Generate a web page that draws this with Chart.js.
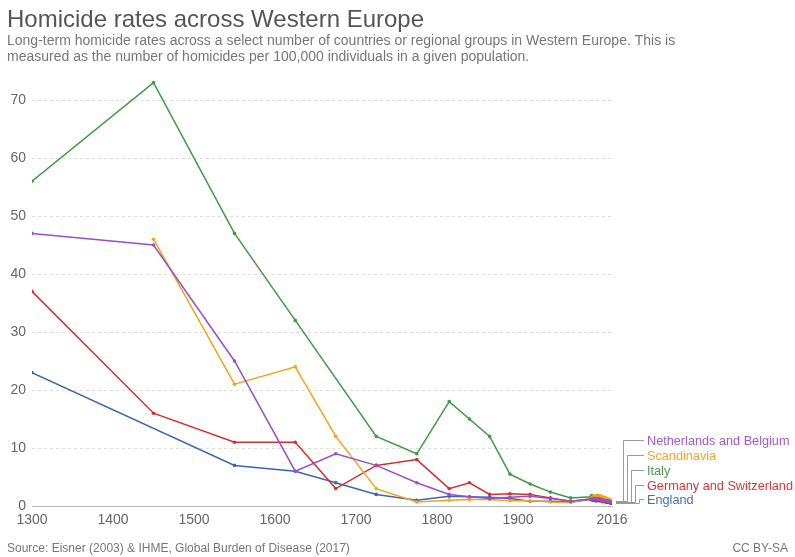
<!DOCTYPE html>
<html>
<head>
<meta charset="utf-8">
<script src="https://cdn.jsdelivr.net/npm/chart.js@4"></script>
<style>
  html, body { margin: 0; padding: 0; background: #fff; }
  #wrap { width: 795px; height: 557px; position: relative; }
  canvas { display: block; }
</style>
</head>
<body>
<div id="wrap"><canvas id="c" width="795" height="557"></canvas></div>
<script>
// ---- Data ----
const seriesNames = ["Netherlands and Belgium", "Scandinavia", "Italy", "Germany and Switzerland", "England"];
const historicYears = [1300, 1450, 1550, 1625, 1675, 1725, 1775, 1815, 1840, 1865, 1890, 1915, 1940, 1965];
const recentYears = [1990, 1991, 1992, 1993, 1994, 1995, 1996, 1997, 1998, 1999, 2000, 2001, 2002, 2003, 2004, 2005, 2006, 2007, 2008, 2009, 2010, 2011, 2012, 2013, 2014, 2015, 2016];

const netherlandsHist = [47, 45, 25, 6, 9, 7, 4, 2, 1.6, 1.3, 1.5, 1.7, 1.3, 0.8];
const scandinaviaHist = [null, 46, 21, 24, 12, 3, 0.7, 1, 1.1, 1.1, 0.9, 0.9, 0.7, 0.6];
const italyHist = [56, 73, 47, 32, null, 12, 9, 18, 15, 12, 5.5, 3.8, 2.4, 1.4];
const germanyHist = [37, 16, 11, 11, 3, 7, 8, 3, 4, 2, 2.1, 2, 1.4, 0.8];
const englandHist = [23, null, 7, 6, 4, 2, 1, 1.7, 1.6, 1.5, 1.3, 0.8, 0.8, 0.7];

const netherlandsRecent = [1.2, 1.2, 1.2, 1.3, 1.3, 1.3, 1.2, 1.2, 1.2, 1.2, 1.2, 1.2, 1.1, 1.1, 1.0, 1.0, 1.0, 0.9, 0.9, 0.9, 0.9, 0.8, 0.8, 0.8, 0.7, 0.7, 0.7];
const scandinaviaRecent = [1.3, 1.4, 1.5, 1.6, 1.6, 1.7, 1.7, 1.8, 1.8, 1.8, 1.7, 1.8, 1.7, 1.6, 1.6, 1.5, 1.5, 1.4, 1.4, 1.3, 1.3, 1.2, 1.1, 1.1, 1.0, 1.0, 0.9];
const italyRecent = [1.6, 1.8, 1.7, 1.6, 1.5, 1.4, 1.4, 1.3, 1.3, 1.3, 1.2, 1.2, 1.2, 1.1, 1.1, 1.0, 1.0, 1.0, 1.0, 0.9, 0.9, 0.9, 0.8, 0.8, 0.8, 0.8, 0.7];
const germanyRecent = [1.2, 1.3, 1.3, 1.2, 1.2, 1.1, 1.1, 1.0, 1.0, 1.0, 0.9, 0.9, 0.9, 0.9, 0.8, 0.8, 0.8, 0.8, 0.7, 0.7, 0.7, 0.7, 0.7, 0.7, 0.7, 0.7, 0.7];
const englandRecent = [1.1, 1.1, 1.0, 1.0, 1.0, 0.9, 0.9, 0.9, 0.9, 1.0, 1.0, 1.1, 1.1, 1.0, 0.9, 0.9, 0.9, 0.8, 0.8, 0.7, 0.7, 0.6, 0.6, 0.6, 0.5, 0.5, 0.5];

const xTickValues = [1300, 1400, 1500, 1600, 1700, 1800, 1900, 2016];
const yTickValues = [0, 10, 20, 30, 40, 50, 60, 70];

// ---- Styles ----
const lineColors = ["#9a4fc6", "#f2a31e", "#3f9a43", "#cf3031", "#3b66b0"];
const labelColors = ["#a05cc9", "#f0a632", "#4a9a4c", "#d03a3c", "#4470b5"];

const allYears = historicYears.concat(recentYears);
function build(hist, recent) {
  const vals = hist.concat(recent);
  return allYears.map((x, i) => ({ x: x, y: vals[i] })).filter(p => p.y !== null);
}
const seriesData = [
  build(netherlandsHist, netherlandsRecent),
  build(scandinaviaHist, scandinaviaRecent),
  build(italyHist, italyRecent),
  build(germanyHist, germanyRecent),
  build(englandHist, englandRecent)
];

const FONT = "'Liberation Sans', Arial, sans-serif";

const decorPlugin = {
  id: 'decor',
  afterDraw(chart) {
    const ctx = chart.ctx;
    ctx.save();
    ctx.textBaseline = 'alphabetic';
    ctx.textAlign = 'left';
    ctx.fillStyle = '#555';
    ctx.font = "24px " + FONT;
    ctx.fillText("Homicide rates across Western Europe", 7, 27);
    ctx.fillStyle = '#777';
    ctx.font = "14px " + FONT;
    ctx.fillText("Long-term homicide rates across a select number of countries or regional groups in Western Europe. This is", 7, 45);
    ctx.fillText("measured as the number of homicides per 100,000 individuals in a given population.", 7, 61);
    ctx.font = "12px " + FONT;
    ctx.fillStyle = '#777';
    ctx.fillText("Source: Eisner (2003) & IHME, Global Burden of Disease (2017)", 7, 552);
    ctx.textAlign = 'right';
    ctx.fillText("CC BY-SA", 788, 552);

    // end-of-line labels with connectors
    const labelY = [440, 455, 470, 485, 499];
    const vx = [623, 627, 631, 635, 639];
    const labelX = 647;
    ctx.textAlign = 'left';
    ctx.textBaseline = 'middle';
    ctx.font = "12.7px " + FONT;
    chart.data.datasets.forEach((ds, i) => {
      const meta = chart.getDatasetMeta(i);
      const last = meta.data[meta.data.length - 1];
      const ex = last.x + 4, ey = last.y;
      ctx.strokeStyle = '#999';
      ctx.lineWidth = 1;
      ctx.beginPath();
      ctx.moveTo(ex, Math.round(ey) + 0.5);
      ctx.lineTo(vx[i] + 0.5, Math.round(ey) + 0.5);
      ctx.lineTo(vx[i] + 0.5, labelY[i] + 0.5);
      ctx.lineTo(labelX - 3, labelY[i] + 0.5);
      ctx.stroke();
      ctx.fillStyle = labelColors[i];
      ctx.fillText(seriesNames[i], labelX, labelY[i] + 1);
    });
    ctx.restore();
  }
};

new Chart(document.getElementById('c'), {
  type: 'line',
  data: {
    datasets: seriesNames.map((name, i) => ({
      label: name,
      data: seriesData[i],
      borderColor: lineColors[i],
      backgroundColor: lineColors[i],
      pointBackgroundColor: lineColors[i],
      pointBorderColor: lineColors[i],
      borderWidth: 1.5,
      pointRadius: 1.8,
      pointBorderWidth: 0,
      tension: 0,
      fill: false
    }))
  },
  options: {
    responsive: false,
    animation: false,
    events: [],
    layout: { padding: { left: 7, right: 183, top: 71, bottom: 27 } },
    plugins: { legend: { display: false }, tooltip: { enabled: false } },
    scales: {
      x: {
        type: 'linear',
        min: 1300,
        max: 2016,
        afterBuildTicks: (scale) => { scale.ticks = xTickValues.map(v => ({ value: v })); },
        afterFit: (scale) => { scale.height = 24; },
        grid: { display: false, drawTicks: false },
        border: { display: true, color: '#bbb', width: 1 },
        ticks: {
          autoSkip: false, maxRotation: 0, padding: 6,
          color: '#666',
          font: { family: FONT, size: 14 },
          callback: (v) => String(v)
        }
      },
      y: {
        min: 0,
        max: 75,
        afterBuildTicks: (scale) => { scale.ticks = yTickValues.map(v => ({ value: v })); },
        afterFit: (scale) => { scale.width = 25; },
        grid: { color: '#ddd', drawTicks: false, lineWidth: 1 },
        border: { display: false, dash: [3, 3] },
        ticks: {
          padding: 6,
          color: '#666',
          font: { family: FONT, size: 14 }
        }
      }
    }
  },
  plugins: [decorPlugin]
});
</script>
</body>
</html>
